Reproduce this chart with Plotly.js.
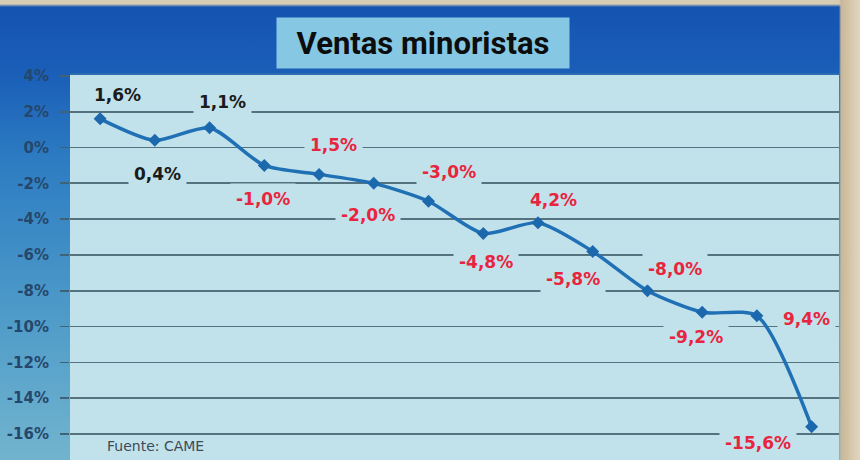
<!DOCTYPE html>
<html><head><meta charset="utf-8">
<script src="https://cdn.plot.ly/plotly-3.0.1.min.js"></script>
<style>
html,body{margin:0;padding:0;background:#1a5cb7;}
#chart{width:860px;height:460px;background:
 linear-gradient(to right, rgba(0,0,0,0) 0px, rgba(0,0,0,0) 839px, #c9b796 841px, #e2d6bf 860px),
 linear-gradient(to bottom, #d8ccb2 0px, #d8ccb2 4px, #1554b1 7px, #1a5eb8 72px, #2d7cc2 160px, #4f9cc9 320px, #72b4ce 460px);}
</style></head>
<body><div id="chart"></div>
<script>
// Data
const categories = [1,2,3,4,5,6,7,8,9,10,11,12,13,14];
const values = [1.6, 0.4, 1.1, -1.0, -1.5, -2.0, -3.0, -4.8, -4.2, -5.8, -8.0, -9.2, -9.4, -15.6];
const labels = ["1,6%","0,4%","1,1%","-1,0%","1,5%","-2,0%","-3,0%","-4,8%","4,2%","-5,8%","-8,0%","-9,2%","9,4%","-15,6%"];
const yTickVals = [4,2,0,-2,-4,-6,-8,-10,-12,-14,-16];
const yTickText = ["4%","2%","0%","-2%","-4%","-6%","-8%","-10%","-12%","-14%","-16%"];

// label placement (pixel offsets) and colours
const labelDx = [17, 3, 13, -1, 14, -6, 20, 3, 16, -20, 28, -6, 50, -54];
const labelDy = [24, -34, 26, -34, 29, -32, 29, -29, 23, -28, 22, -25, -3, -16];
const labelColor = i => (i < 3 ? '#1b1b1b' : '#e8253f');

const plotBg = '#c2e2eb';

const trace = {
  x: categories, y: values, type: 'scatter', mode: 'lines+markers',
  line: {color: '#2070b6', width: 3.5, shape: 'spline', smoothing: 0.7},
  marker: {symbol: 'diamond', size: 10, color: '#1c68ad'},
  hoverinfo: 'skip'
};

const annotations = values.map((v, i) => ({
  x: categories[i], y: v, xref: 'x', yref: 'y', text: labels[i], showarrow: false,
  xshift: labelDx[i], yshift: labelDy[i],
  font: {family: 'DejaVu Sans', size: 17, color: labelColor(i), weight: 'bold'},
  bgcolor: plotBg, borderpad: 5
}));

annotations.push({
  xref: 'paper', yref: 'paper', x: 0.459, y: 1.083, xanchor: 'center', yanchor: 'middle',
  text: 'Ventas minoristas', showarrow: false, width: 290, height: 48,
  font: {family: 'Roboto', size: 31, color: '#0d0d0d', weight: 'bold'},
  bgcolor: '#86c7e4'
});
annotations.push({
  xref: 'paper', yref: 'paper', x: 0.045, y: 0.036, xanchor: 'left', yanchor: 'middle',
  text: 'Fuente: CAME', showarrow: false,
  font: {family: 'DejaVu Sans', size: 14, color: '#3e4a56'}
});

const layout = {
  width: 860, height: 460,
  margin: {l: 70, r: 21, t: 75, b: 0, pad: 0},
  paper_bgcolor: 'rgba(0,0,0,0)', plot_bgcolor: plotBg,
  showlegend: false,
  xaxis: {
    range: [0.45, 14.5], showgrid: false, zeroline: false, showticklabels: false,
    showline: true, mirror: true, linecolor: '#2b6db0', linewidth: 2, ticks: ''
  },
  yaxis: {
    range: [-17.45, 4.05], tickvals: yTickVals, ticktext: yTickText,
    showgrid: true, gridcolor: '#55737f', gridwidth: 1.8, zeroline: false,
    ticks: 'outside', ticklen: 9, tickcolor: '#3f6276', tickwidth: 1.8,
    ticklabelstandoff: 8,
    tickfont: {family: 'DejaVu Sans', size: 15, color: '#26476c', weight: 'bold'},
    showline: false
  },
  annotations: annotations
};

Plotly.newPlot('chart', [trace], layout, {displayModeBar: false, staticPlot: true});
</script>
</body></html>
